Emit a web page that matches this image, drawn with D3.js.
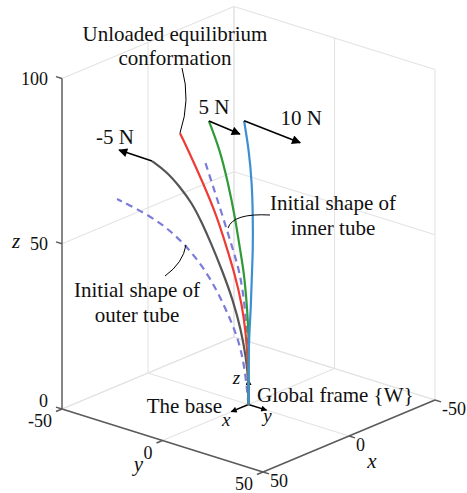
<!DOCTYPE html>
<meta charset="utf-8">
<title>Tube shapes under tip load</title>
<style>
    body { margin: 0; background: #fff; }
    text { font-family: "Liberation Serif", "Times New Roman", serif; fill: #111; }
    .tick { font-size: 18px; }
    .note { font-size: 21px; }
    .axlab { font-size: 21px; font-style: italic; }
</style>
<body>
<script src="https://cdnjs.cloudflare.com/ajax/libs/d3/7.8.5/d3.min.js"></script>
<script>

    var w = 467, h = 493;

    // axis ticks
    var xTicks = [-50, 0, 50],
        yTicks = [-50, 0, 50],
        zTicks = [0, 50, 100];

    // tube backbones (x = 0 plane)
    var outerY = [0, -1.7, -4.7, -11.7, -20.1, -33.1, -47.5, -65.4],
        outerZ = [0, 10.1, 18.6, 27.3, 35.9, 43.4, 47.7, 49.7];
    var innerY = [0, 0, -0.7, -1.7, -4.2, -7.7, -12.7, -18.2, -21.6],
        innerZ = [0, 10.4, 19.4, 29.2, 39.0, 45.3, 54.3, 63.6, 69.3];
    var minus5Y = [0, 0, -1.2, -3.7, -7.7, -13.2, -18.7, -23.1, -28.1, -34.1, -40.5, -48.0],
        minus5Z = [0, 7.4, 13.8, 21.8, 30.1, 38.2, 45.3, 50.5, 55.6, 59.3, 62.6, 64.5];
    var unloadedY = [0, -0.2, -1.2, -3.2, -6.7, -11.2, -16.2, -22.6, -29.6, -34.1],
        unloadedZ = [0, 11.9, 20.8, 29.5, 37.9, 46.1, 54.6, 62.7, 70.8, 75.6];
    var plus5Y = [0, 0, 0.2, -0.7, -2.2, -4.2, -6.7, -10.2, -14.2, -19.7],
        plus5Z = [0, 10.4, 19.5, 29.3, 39.4, 46.0, 55.5, 65.1, 74.3, 82.0];
    var plus10Y = [0, 0, 0.2, 1.2, 1.7, 2.2, 2.2, 1.7, 0.2, -2.2],
        plus10Z = [0, 10.4, 19.6, 29.7, 40.1, 47.2, 57.2, 67.4, 77.0, 85.4];

    // tip forces
    var forceLabels = ["-5 N", "5 N", "10 N"],
        forceDY = [-16.4, 15.4, 27.9],
        forceDZ = [0.2, -1.0, -1.3];

    // base frame arrow lengths (x, y, z)
    var frameLen = [10, 9, 7.5];

    // orthographic view: each axis adds a horizontal and a vertical screen shift
    var xH = d3.scaleLinear().domain([-50, 50]).range([86, -86]),
        xV = d3.scaleLinear().domain([-50, 50]).range([-36, 36]),
        yH = d3.scaleLinear().domain([-50, 50]).range([-100.5, 100.5]),
        yV = d3.scaleLinear().domain([-50, 50]).range([-31.5, 31.5]),
        zV = d3.scaleLinear().domain([0, 100]).range([0, -330.5]);
    var ox = 248.5, oy = 404.5;

    function proj(p) {
        return [ox + xH(p[0]) + yH(p[1]), oy + xV(p[0]) + yV(p[1]) + zV(p[2])];
    }

    var svg = d3.select("body").append("svg")
        .attr("width", w)
        .attr("height", h);

    var defs = svg.append("defs");
    defs.append("marker")
        .attr("id", "head")
        .attr("viewBox", "0 0 10 10")
        .attr("refX", 9).attr("refY", 5)
        .attr("markerWidth", 11).attr("markerHeight", 9)
        .attr("markerUnits", "userSpaceOnUse")
        .attr("orient", "auto")
        .append("path").attr("d", "M0,0L10,5L0,10Z").attr("fill", "#000");
    defs.append("marker")
        .attr("id", "small")
        .attr("viewBox", "0 0 10 10")
        .attr("refX", 9).attr("refY", 5)
        .attr("markerWidth", 7).attr("markerHeight", 6)
        .attr("markerUnits", "userSpaceOnUse")
        .attr("orient", "auto")
        .append("path").attr("d", "M0,0L10,5L0,10Z").attr("fill", "#000");

    function seg(g, a, b) {
        var p = proj(a), q = proj(b);
        return g.append("line")
            .attr("x1", p[0]).attr("y1", p[1])
            .attr("x2", q[0]).attr("y2", q[1]);
    }

    // grid and box on the back walls and floor
    var grid = svg.append("g").attr("stroke", "#e3e3e3").attr("stroke-width", 1.1);
    xTicks.forEach(function(t) {
        seg(grid, [t, -50, 0], [t, 50, 0]);
        seg(grid, [t, -50, 0], [t, -50, 100]);
    });
    yTicks.forEach(function(t) {
        seg(grid, [-50, t, 0], [50, t, 0]);
        seg(grid, [-50, t, 0], [-50, t, 100]);
    });
    zTicks.forEach(function(t) {
        seg(grid, [50, -50, t], [-50, -50, t]);
        seg(grid, [-50, -50, t], [-50, 50, t]);
    });

    // axes
    var axes = svg.append("g").attr("stroke", "#5a5a5a").attr("stroke-width", 1.4);
    seg(axes, [50, -50, 0], [50, -50, 100]);
    seg(axes, [50, -50, 0], [50, 50, 0]);
    seg(axes, [50, 50, 0], [-50, 50, 0]);
    zTicks.forEach(function(t) { seg(axes, [50, -50, t], [50, -53, t]); });
    yTicks.forEach(function(t) { seg(axes, [50, t, 0], [53.5, t, 0]); });
    xTicks.forEach(function(t) { seg(axes, [t, 50, 0], [t, 53, 0]); });

    zTicks.forEach(function(t) {
        var p = proj([50, -50, t]);
        svg.append("text").attr("class", "tick")
            .attr("x", p[0] - 14).attr("y", p[1] + (t === 0 ? -2 : 6))
            .attr("text-anchor", "end").text(t);
    });
    yTicks.forEach(function(t) {
        var p = proj([50, t, 0]);
        svg.append("text").attr("class", "tick")
            .attr("x", p[0] - 10).attr("y", p[1] + 18)
            .attr("text-anchor", "end").text(t);
    });
    xTicks.forEach(function(t) {
        var p = proj([t, 50, 0]);
        svg.append("text").attr("class", "tick")
            .attr("x", p[0] + 7).attr("y", p[1] + 15)
            .attr("text-anchor", "start").text(t);
    });

    var pz = proj([50, -50, 50]);
    svg.append("text").attr("class", "axlab").attr("x", pz[0] - 46).attr("y", pz[1] + 4)
        .attr("text-anchor", "middle").text("z");
    var py = proj([50, 0, 0]);
    svg.append("text").attr("class", "axlab").attr("x", py[0] - 24).attr("y", py[1] + 30)
        .attr("text-anchor", "middle").text("y");
    var px = proj([0, 50, 0]);
    svg.append("text").attr("class", "axlab").attr("x", px[0] + 23).attr("y", px[1] + 32)
        .attr("text-anchor", "middle").text("x");

    // base frame {W}
    var frame = svg.append("g").attr("stroke", "#000").attr("stroke-width", 1.4);
    seg(frame, [0, 0, 0], [frameLen[0], 0, 0]).attr("marker-end", "url(#small)");
    seg(frame, [0, 0, 0], [0, frameLen[1], 0]).attr("marker-end", "url(#small)");
    seg(frame, [0, 0, 0], [0, 0, frameLen[2]]).attr("marker-end", "url(#small)");
    var fx = proj([frameLen[0], 0, 0]), fy = proj([0, frameLen[1], 0]), fz = proj([0, 0, frameLen[2]]);
    svg.append("text").attr("class", "axlab").style("font-size", "19px")
        .attr("x", fx[0] - 5).attr("y", fx[1] + 14).attr("text-anchor", "middle").text("x");
    svg.append("text").attr("class", "axlab").style("font-size", "19px")
        .attr("x", fy[0] + 1).attr("y", fy[1] + 12).attr("text-anchor", "middle").text("y");
    svg.append("text").attr("class", "axlab").style("font-size", "19px")
        .attr("x", fz[0] - 12).attr("y", fz[1] + 4).attr("text-anchor", "middle").text("z");

    // tube curves
    var line = d3.line().curve(d3.curveBasis);
    function pts(ys, zs) {
        return ys.map(function(y, i) { return proj([0, y, zs[i]]); });
    }
    var curves = [
        { ys: outerY, zs: outerZ, color: "#7b7bd9", dash: "7,5" },
        { ys: innerY, zs: innerZ, color: "#7b7bd9", dash: "7,5" },
        { ys: minus5Y, zs: minus5Z, color: "#555555", dash: null },
        { ys: unloadedY, zs: unloadedZ, color: "#ee3b35", dash: null },
        { ys: plus5Y, zs: plus5Z, color: "#2f9a37", dash: null },
        { ys: plus10Y, zs: plus10Z, color: "#3d8fd4", dash: null }
    ];
    svg.append("g").selectAll("path")
        .data(curves)
        .enter().append("path")
        .attr("d", function(d) { return line(pts(d.ys, d.zs)); })
        .attr("fill", "none")
        .attr("stroke", function(d) { return d.color; })
        .attr("stroke-width", 2.2)
        .attr("stroke-dasharray", function(d) { return d.dash; });

    // force arrows at the tips
    var tipCurves = [
        [minus5Y, minus5Z],
        [plus5Y, plus5Z],
        [plus10Y, plus10Z]
    ];
    var labelShift = [[-4, -6], [-26, -20], [1, -18]];
    tipCurves.forEach(function(c, i) {
        var n = c[0].length - 1;
        var a = [0, c[0][n], c[1][n]],
            b = [0, c[0][n] + forceDY[i], c[1][n] + forceDZ[i]];
        seg(svg, a, b).attr("stroke", "#000").attr("stroke-width", 1.6)
            .attr("marker-end", "url(#head)");
        var p = proj(b);
        svg.append("text").attr("class", "note")
            .attr("x", p[0] + labelShift[i][0]).attr("y", p[1] + labelShift[i][1])
            .attr("text-anchor", "middle").text(forceLabels[i]);
    });

    // annotations
    var note = svg.append("g");
    note.append("text").attr("class", "note").attr("x", 175).attr("y", 41)
        .attr("text-anchor", "middle").text("Unloaded equilibrium");
    note.append("text").attr("class", "note").attr("x", 175).attr("y", 65)
        .attr("text-anchor", "middle").text("conformation");
    var rt = proj([0, unloadedY[unloadedY.length - 1], unloadedZ[unloadedZ.length - 1]]);
    note.append("path").attr("fill", "none").attr("stroke", "#000").attr("stroke-width", 1)
        .attr("d", "M182,68Q191,100," + rt[0] + "," + rt[1]);

    note.append("text").attr("class", "note").attr("x", 333).attr("y", 210)
        .attr("text-anchor", "middle").text("Initial shape of");
    note.append("text").attr("class", "note").attr("x", 333).attr("y", 235)
        .attr("text-anchor", "middle").text("inner tube");
    note.append("path").attr("fill", "none").attr("stroke", "#000").attr("stroke-width", 1)
        .attr("d", "M270,215Q233,213,228,228");

    note.append("text").attr("class", "note").attr("x", 137).attr("y", 297)
        .attr("text-anchor", "middle").text("Initial shape of");
    note.append("text").attr("class", "note").attr("x", 137).attr("y", 322)
        .attr("text-anchor", "middle").text("outer tube");
    note.append("path").attr("fill", "none").attr("stroke", "#000").attr("stroke-width", 1)
        .attr("d", "M165,276Q183,263,186,245");

    note.append("text").attr("class", "note").attr("x", 222).attr("y", 413)
        .attr("text-anchor", "end").text("The base");
    note.append("text").attr("class", "note").attr("x", 257).attr("y", 402)
        .attr("text-anchor", "start").text("Global frame {W}");

</script>
